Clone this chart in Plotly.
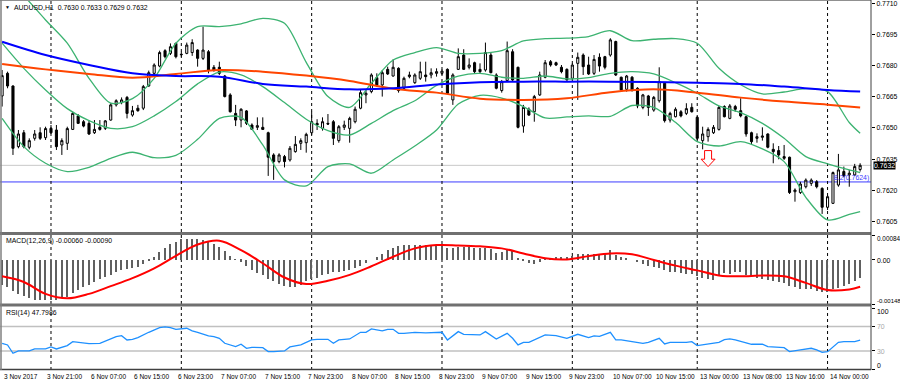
import plotly.graph_objects as go

# ---------------- data ----------------
bars = list(range(159))
opens = [0.76654,0.76763,0.76702,0.76410,0.76477,0.76407,0.76450,0.76477,0.76453,0.76498,
0.76490,0.76418,0.76426,0.76493,0.76558,0.76530,0.76522,0.76477,0.76503,0.76498,
0.76538,0.76611,0.76622,0.76647,0.76562,0.76595,0.76595,0.76702,0.76763,0.76798,
0.76872,0.76859,0.76907,0.76855,0.76859,0.76863,0.76875,0.76835,0.76867,0.76792,
0.76792,0.76750,0.76659,0.76570,0.76538,0.76582,0.76514,0.76503,0.76503,0.76477,
0.76370,0.76338,0.76362,0.76346,0.76386,0.76426,0.76429,0.76477,0.76522,0.76498,
0.76522,0.76530,0.76439,0.76503,0.76498,0.76530,0.76595,0.76659,0.76675,0.76742,
0.76707,0.76782,0.76750,0.76787,0.76691,0.76747,0.76718,0.76739,0.76755,0.76755,
0.76763,0.76763,0.76782,0.76635,0.76782,0.76851,0.76792,0.76814,0.76782,0.76779,
0.76851,0.76755,0.76680,0.76728,0.76867,0.76792,0.76509,0.76590,0.76578,0.76659,
0.76744,0.76819,0.76814,0.76792,0.76782,0.76739,0.76811,0.76851,0.76803,0.76763,
0.76840,0.76843,0.76851,0.76916,0.76744,0.76686,0.76744,0.76691,0.76599,0.76654,
0.76586,0.76631,0.76715,0.76538,0.76554,0.76578,0.76570,0.76599,0.76551,0.76439,
0.76458,0.76477,0.76493,0.76603,0.76546,0.76603,0.76583,0.76554,0.76477,0.76450,
0.76455,0.76471,0.76397,0.76391,0.76362,0.76359,0.76193,0.76189,0.76217,0.76233,
0.76241,0.76209,0.76118,0.76137,0.76225,0.76290,0.76274,0.76274,0.76300]
highs = [0.76779,0.76771,0.76705,0.76490,0.76490,0.76450,0.76490,0.76503,0.76506,0.76514,
0.76514,0.76450,0.76506,0.76578,0.76567,0.76538,0.76538,0.76538,0.76538,0.76538,
0.76619,0.76638,0.76647,0.76654,0.76606,0.76611,0.76707,0.76776,0.76811,0.76872,
0.76879,0.76907,0.76911,0.76867,0.76911,0.76927,0.76879,0.76988,0.76875,0.76803,
0.76819,0.76755,0.76667,0.76611,0.76595,0.76586,0.76522,0.76551,0.76551,0.76482,
0.76378,0.76378,0.76370,0.76413,0.76461,0.76450,0.76477,0.76578,0.76542,0.76551,
0.76567,0.76538,0.76514,0.76535,0.76554,0.76603,0.76683,0.76683,0.76763,0.76763,
0.76779,0.76795,0.76830,0.76792,0.76747,0.76771,0.76763,0.76819,0.76819,0.76787,
0.76787,0.76782,0.76787,0.76763,0.76883,0.76879,0.76835,0.76819,0.76811,0.76911,
0.76863,0.76763,0.76731,0.76916,0.76879,0.76795,0.76611,0.76599,0.76659,0.76771,
0.76827,0.76827,0.76819,0.76803,0.76787,0.76811,0.76863,0.76859,0.76843,0.76851,
0.76859,0.76847,0.76932,0.76920,0.76747,0.76755,0.76750,0.76696,0.76664,0.76659,
0.76654,0.76792,0.76718,0.76578,0.76599,0.76586,0.76619,0.76619,0.76558,0.76506,
0.76503,0.76514,0.76606,0.76609,0.76615,0.76611,0.76643,0.76558,0.76482,0.76474,
0.76503,0.76474,0.76426,0.76413,0.76418,0.76362,0.76209,0.76241,0.76257,0.76257,
0.76249,0.76214,0.76177,0.76290,0.76375,0.76314,0.76298,0.76327,0.76330]
lows = [0.76603,0.76691,0.76370,0.76402,0.76402,0.76397,0.76439,0.76442,0.76442,0.76471,
0.76394,0.76370,0.76394,0.76490,0.76519,0.76503,0.76466,0.76471,0.76487,0.76490,
0.76535,0.76603,0.76614,0.76546,0.76554,0.76578,0.76586,0.76699,0.76755,0.76792,
0.76835,0.76851,0.76835,0.76843,0.76855,0.76847,0.76795,0.76827,0.76763,0.76771,
0.76755,0.76647,0.76574,0.76509,0.76503,0.76514,0.76490,0.76490,0.76490,0.76269,
0.76250,0.76330,0.76310,0.76338,0.76381,0.76394,0.76381,0.76466,0.76490,0.76487,
0.76514,0.76418,0.76429,0.76490,0.76429,0.76522,0.76590,0.76619,0.76667,0.76699,
0.76651,0.76755,0.76747,0.76670,0.76683,0.76739,0.76712,0.76731,0.76723,0.76739,
0.76747,0.76755,0.76664,0.76611,0.76779,0.76779,0.76782,0.76763,0.76763,0.76771,
0.76763,0.76686,0.76670,0.76723,0.76723,0.76498,0.76477,0.76558,0.76530,0.76654,
0.76739,0.76795,0.76798,0.76763,0.76728,0.76731,0.76635,0.76755,0.76755,0.76755,
0.76771,0.76782,0.76843,0.76750,0.76680,0.76675,0.76675,0.76595,0.76590,0.76558,
0.76578,0.76622,0.76526,0.76526,0.76551,0.76551,0.76562,0.76574,0.76442,0.76397,
0.76434,0.76471,0.76487,0.76551,0.76542,0.76578,0.76551,0.76458,0.76423,0.76429,
0.76439,0.76402,0.76330,0.76349,0.76346,0.76182,0.76145,0.76182,0.76209,0.76221,
0.76209,0.76086,0.76105,0.76134,0.76217,0.76262,0.76217,0.76269,0.76290]
closes = [0.76752,0.76702,0.76402,0.76471,0.76410,0.76439,0.76471,0.76450,0.76497,0.76477,
0.76410,0.76439,0.76497,0.76570,0.76522,0.76509,0.76471,0.76493,0.76493,0.76534,
0.76611,0.76631,0.76635,0.76570,0.76583,0.76583,0.76699,0.76766,0.76803,0.76863,
0.76843,0.76891,0.76843,0.76853,0.76899,0.76911,0.76835,0.76875,0.76779,0.76779,
0.76763,0.76651,0.76578,0.76538,0.76590,0.76522,0.76493,0.76511,0.76493,0.76359,
0.76338,0.76370,0.76338,0.76402,0.76421,0.76439,0.76469,0.76530,0.76514,0.76530,
0.76519,0.76450,0.76506,0.76514,0.76546,0.76590,0.76670,0.76667,0.76755,0.76707,
0.76766,0.76760,0.76792,0.76680,0.76739,0.76755,0.76755,0.76771,0.76747,0.76766,
0.76771,0.76774,0.76667,0.76755,0.76843,0.76782,0.76803,0.76771,0.76771,0.76863,
0.76766,0.76691,0.76723,0.76872,0.76731,0.76503,0.76599,0.76562,0.76651,0.76755,
0.76814,0.76803,0.76803,0.76771,0.76731,0.76803,0.76840,0.76795,0.76760,0.76830,
0.76798,0.76792,0.76924,0.76755,0.76683,0.76750,0.76683,0.76606,0.76659,0.76599,
0.76647,0.76723,0.76535,0.76570,0.76590,0.76558,0.76593,0.76578,0.76450,0.76471,
0.76493,0.76503,0.76599,0.76554,0.76606,0.76590,0.76558,0.76471,0.76434,0.76458,
0.76461,0.76407,0.76386,0.76370,0.76354,0.76189,0.76201,0.76230,0.76249,0.76249,
0.76217,0.76118,0.76169,0.76285,0.76298,0.76269,0.76282,0.76314,0.76320]

bb_x = [0,4,8,12,16,20,24,28,32,36,40,44,48,52,56,60,64,68,72,76,80,84,88,92,96,100,
        104,108,112,116,120,124,128,132,136,140,144,148,152,156,158]
bb_upper = [0.77250,0.77137,0.77020,0.76908,0.76739,0.76619,0.76641,0.76739,0.76908,0.76988,
            0.76988,0.77001,0.77028,0.77004,0.76816,0.76651,0.76599,0.76715,0.76827,0.76863,
            0.76887,0.76859,0.76859,0.76872,0.76919,0.76930,0.76932,0.76940,0.76968,0.76920,
            0.76927,0.76930,0.76908,0.76787,0.76708,0.76664,0.76673,0.76689,0.76675,0.76526,0.76474]
bb_middle = [0.76908,0.76787,0.76683,0.76593,0.76535,0.76498,0.76506,0.76558,0.76627,0.76712,
             0.76769,0.76755,0.76699,0.76622,0.76542,0.76487,0.76466,0.76522,0.76583,0.76631,
             0.76705,0.76750,0.76763,0.76744,0.76739,0.76750,0.76736,0.76742,0.76763,0.76771,
             0.76760,0.76718,0.76667,0.76606,0.76574,0.76522,0.76450,0.76362,0.76327,0.76298,0.76285]
bb_lower = [0.76546,0.76410,0.76330,0.76290,0.76310,0.76354,0.76383,0.76357,0.76368,0.76445,
            0.76546,0.76551,0.76418,0.76250,0.76221,0.76314,0.76327,0.76282,0.76346,0.76413,
            0.76490,0.76615,0.76657,0.76644,0.76603,0.76548,0.76553,0.76558,0.76556,0.76608,
            0.76599,0.76527,0.76434,0.76413,0.76434,0.76399,0.76338,0.76166,0.76057,0.76084,0.76097]

ma_x = [0,8,16,24,32,40,48,56,64,72,80,88,96,104,112,120,128,136,144,152,158]
ma_blue = [0.76915,0.76851,0.76803,0.76763,0.76750,0.76747,0.76712,0.76699,0.76686,0.76691,
           0.76709,0.76720,0.76723,0.76723,0.76723,0.76721,0.76717,0.76712,0.76699,0.76683,0.76675]
ma_red = [0.76808,0.76782,0.76760,0.76742,0.76760,0.76779,0.76771,0.76752,0.76726,0.76689,
          0.76670,0.76641,0.76635,0.76643,0.76672,0.76686,0.76670,0.76646,0.76627,0.76612,0.76599]

macd_main = [-0.00083,-0.00092,-0.00103,-0.00114,-0.00122,-0.00128,-0.00133,-0.00136,-0.00136,-0.00135,
-0.00133,-0.00129,-0.00123,-0.00110,-0.00102,-0.00092,-0.00083,-0.00074,-0.00064,-0.00056,
-0.00050,-0.00041,-0.00034,-0.00030,-0.00028,-0.00025,-0.00014,-0.00003,0.00011,0.00028,
0.00041,0.00053,0.00061,0.00070,0.00072,0.00072,0.00070,0.00066,0.00063,0.00055,
0.00043,0.00030,0.00012,0.00003,-0.00006,-0.00019,-0.00032,-0.00044,-0.00052,-0.00063,
-0.00072,-0.00081,-0.00086,-0.00091,-0.00090,-0.00083,-0.00072,-0.00064,-0.00059,-0.00052,
-0.00046,-0.00042,-0.00039,-0.00036,-0.00034,-0.00028,-0.00021,-0.00009,0.00000,0.00009,
0.00021,0.00032,0.00041,0.00048,0.00050,0.00050,0.00049,0.00050,0.00051,0.00050,
0.00049,0.00049,0.00039,0.00041,0.00044,0.00044,0.00044,0.00041,0.00041,0.00041,
0.00036,0.00025,0.00028,0.00032,0.00030,0.00006,-0.00003,-0.00011,-0.00012,-0.00006,
0.00003,0.00008,0.00011,0.00011,0.00011,0.00014,0.00019,0.00019,0.00019,0.00019,
0.00019,0.00021,0.00033,0.00017,0.00010,0.00006,0.00000,-0.00007,-0.00014,-0.00021,
-0.00025,-0.00028,-0.00033,-0.00039,-0.00041,-0.00044,-0.00046,-0.00048,-0.00055,-0.00061,
-0.00063,-0.00066,-0.00055,-0.00044,-0.00048,-0.00039,-0.00039,-0.00050,-0.00057,-0.00061,
-0.00065,-0.00067,-0.00070,-0.00074,-0.00078,-0.00088,-0.00092,-0.00096,-0.00099,-0.00099,
-0.00103,-0.00106,-0.00107,-0.00099,-0.00094,-0.00086,-0.00081,-0.00070,-0.00060]
sig_x = bb_x
macd_signal = [-0.00055,-0.00074,-0.00114,-0.00129,-0.00114,-0.00088,-0.00061,-0.00028,0.00014,0.00052,
               0.00065,0.00033,-0.00011,-0.00059,-0.00081,-0.00070,-0.00050,-0.00021,0.00011,0.00039,
               0.00050,0.00049,0.00046,0.00039,0.00022,0.00006,0.00002,0.00013,0.00022,0.00019,
               0.00000,-0.00019,-0.00035,-0.00052,-0.00055,-0.00052,-0.00055,-0.00077,-0.00101,-0.00099,-0.00090]

rsi_x = [0,1,2,3,5,6,8,9,10,12,13,14,16,18,19,21,22,23,24,25,27,28,29,30,31,32,34,35,36,38,
         39,40,41,43,44,45,46,48,49,50,52,53,55,57,58,60,61,62,64,66,67,68,70,71,72,73,74,76,78,81,
         82,84,85,88,89,91,93,94,95,96,97,100,102,104,106,108,109,110,112,113,114,116,118,119,121,122,
         123,126,127,128,130,132,133,134,135,138,140,141,144,145,147,149,150,151,152,154,155,157,158]
rsi_v = [42.6,39.9,26.2,30.0,30.0,33.3,33.3,36.6,33.3,38.8,45.3,44.2,42.1,42.6,46.4,53.6,55.2,48.1,49.2,51.9,
         60.7,64.0,68.4,69.5,68.4,65.6,67.3,62.9,60.7,54.7,53.6,50.8,42.6,37.1,41.0,34.4,36.0,35.5,28.9,28.9,
         30.0,36.6,39.9,48.1,49.2,49.2,42.6,48.1,49.7,60.7,60.7,66.2,62.9,65.6,65.6,59.0,59.0,60.7,59.6,60.7,
         48.1,61.8,57.4,56.3,61.8,49.7,59.0,50.8,39.9,44.2,44.2,56.3,55.2,50.8,57.4,51.9,54.7,54.1,60.7,48.1,
         48.1,45.3,42.6,44.2,50.8,41.5,44.2,44.2,45.3,38.8,41.5,44.2,48.6,49.7,48.1,41.0,41.0,37.1,35.5,28.9,
         31.6,34.4,31.6,27.8,28.9,44.2,45.3,45.3,47.7986]

price_ticks = [0.7605, 0.7620, 0.7635, 0.7650, 0.7665, 0.7680, 0.7695, 0.7710]
time_labels = ["3 Nov 21:00", "6 Nov 07:00", "6 Nov 15:00", "6 Nov 23:00", "7 Nov 07:00",
               "7 Nov 15:00", "7 Nov 23:00", "8 Nov 07:00", "8 Nov 15:00", "8 Nov 23:00",
               "9 Nov 07:00", "9 Nov 15:00", "9 Nov 23:00", "10 Nov 07:00", "10 Nov 15:00",
               "13 Nov 00:00", "13 Nov 08:00", "13 Nov 16:00", "14 Nov 00:00"]
first_label = "3 Nov 2017"
grid_bars = [9, 33, 57, 81, 105, 128, 152]
bid_price = 0.7632
fib_price = 0.7624
fib_text = "8.2(0.7624)"
arrow_bar = 130
arrow_price = 0.76391
title_main = "AUDUSD,H1  0.7630 0.7633 0.7629 0.7632"
title_macd = "MACD(12,26,9) -0.00060 -0.00090"
title_rsi = "RSI(14) 47.7986"

# ---------------- geometry helpers ----------------
W_PLOT, H_PLOT = 871.0, 370.0
def py(px):
    return 1 - px / H_PLOT
def pxp(px):
    return px / W_PLOT

FONT = dict(family="Liberation Sans, Arial, sans-serif", size=6.9, color="black")
XFONT = dict(FONT, size=6.5)
GREEN = "#3cb371"

fig = go.Figure()
fig.add_trace(go.Candlestick(
    x=bars, open=opens, high=highs, low=lows, close=closes,
    increasing=dict(line=dict(color="black", width=1), fillcolor="white"),
    decreasing=dict(line=dict(color="black", width=1), fillcolor="black"),
    whiskerwidth=0, yaxis="y", hoverinfo="skip"))
for band in (bb_upper, bb_middle, bb_lower):
    fig.add_trace(go.Scatter(x=bb_x, y=band, mode="lines", yaxis="y",
                             line=dict(color=GREEN, width=1.3, shape="spline", smoothing=0.8)))
fig.add_trace(go.Scatter(x=ma_x, y=ma_red, mode="lines", yaxis="y",
                         line=dict(color="#ff4500", width=2, shape="spline")))
fig.add_trace(go.Scatter(x=ma_x, y=ma_blue, mode="lines", yaxis="y",
                         line=dict(color="#0000ff", width=2, shape="spline")))

fig.add_trace(go.Bar(x=bars, y=macd_main, width=0.25, yaxis="y2",
                     marker=dict(color="#606060", line=dict(width=0))))
fig.add_trace(go.Scatter(x=sig_x, y=macd_signal, mode="lines", yaxis="y2",
                         line=dict(color="#ff0000", width=2, shape="spline")))
fig.add_trace(go.Scatter(x=rsi_x, y=rsi_v, mode="lines", yaxis="y3",
                         line=dict(color="#1e90ff", width=1.3)))

shapes = []
shapes.append(dict(type="line", xref="paper", yref="y", x0=0, x1=1, y0=bid_price, y1=bid_price,
                   line=dict(color="#c8c8c8", width=1), layer="below"))
shapes.append(dict(type="line", xref="paper", yref="y", x0=0, x1=1, y0=fib_price, y1=fib_price,
                   line=dict(color="#3c3cff", width=1), layer="below"))
for lv in (70, 30):
    shapes.append(dict(type="line", xref="paper", yref="y3", x0=0, x1=1, y0=lv, y1=lv,
                       line=dict(color="#c0c0c0", width=1.5), layer="below"))
for g in grid_bars:
    shapes.append(dict(type="line", xref="x", yref="paper", x0=g, x1=g, y0=0, y1=1,
                       line=dict(color="black", width=1, dash="dot"), layer="below"))
for ypx, w, c in ((233.5, 3, "#707070"), (305.0, 3, "#707070"), (369.5, 1.5, "#404040"),
                  (0.5, 1, "#909090")):
    shapes.append(dict(type="line", xref="paper", yref="paper", x0=0, x1=1, y0=py(ypx), y1=py(ypx),
                       line=dict(color=c, width=w)))
shapes.append(dict(type="line", xref="paper", yref="paper", x0=pxp(1), x1=pxp(1), y0=0, y1=1,
                   line=dict(color="#808080", width=1.5)))
shapes.append(dict(type="line", xref="paper", yref="paper", x0=1, x1=1, y0=0, y1=1,
                   line=dict(color="#404040", width=1)))
shapes.append(dict(type="path", xref="x", yref="y", xsizemode="pixel", ysizemode="pixel",
                   xanchor=arrow_bar, yanchor=arrow_price,
                   path="M -3.5,0 L 3.5,0 L 3.5,-8.6 L 7,-8.6 L 0,-16 L -7,-8.6 L -3.5,-8.6 Z",
                   fillcolor="white", line=dict(color="#ff0000", width=1)))

ann = []
ann.append(dict(text="▼", xref="paper", yref="paper", x=pxp(3), y=py(7), xanchor="left",
                yanchor="middle", showarrow=False, font=dict(FONT, size=5)))
ann.append(dict(text=title_main, xref="paper", yref="paper", x=pxp(12), y=py(7), xanchor="left",
                yanchor="middle", showarrow=False, font=FONT))
ann.append(dict(text=title_macd, xref="paper", yref="paper", x=pxp(4), y=py(240.5), xanchor="left",
                yanchor="middle", showarrow=False, font=FONT))
ann.append(dict(text=title_rsi, xref="paper", yref="paper", x=pxp(4), y=py(313), xanchor="left",
                yanchor="middle", showarrow=False, font=FONT))
ann.append(dict(text=fib_text, xref="paper", yref="y", x=1, y=fib_price, xanchor="right",
                yanchor="bottom", showarrow=False, font=dict(FONT, color="#3c3cff"), yshift=-2))
ann.append(dict(text=f"{bid_price:.4f}", xref="paper", yref="y", x=pxp(873), y=bid_price,
                xanchor="left", yanchor="middle", showarrow=False, bgcolor="black",
                font=dict(FONT, color="white"), borderpad=0))
for txt, ypx, col, sz in (("0.00084", 239, "black", 6.4), ("0.00", 260, "black", 6.9),
                          ("-0.00148", 301, "black", 6.0), ("100", 311.7, "black", 6.9),
                          ("70", 326.7, "#a8a8a8", 6.9), ("30", 351, "#a8a8a8", 6.9),
                          ("0", 365, "black", 6.9)):
    ann.append(dict(text=txt, xref="paper", yref="paper", x=pxp(875), y=py(ypx), xanchor="left",
                    yanchor="middle", showarrow=False, font=dict(FONT, color=col, size=sz)))
ann.append(dict(text=first_label, xref="x", yref="paper", x=0, y=py(376.5), xanchor="left",
                yanchor="middle", showarrow=False, font=XFONT))
for k, lab in enumerate(time_labels):
    ann.append(dict(text=lab, xref="x", yref="paper", x=7.9 + 8.01 * k, y=py(376.5), xanchor="left",
                    yanchor="middle", showarrow=False, font=XFONT))

fig.update_layout(
    width=900, height=384, margin=dict(l=0, r=29, t=0, b=14),
    paper_bgcolor="white", plot_bgcolor="white", showlegend=False, boxgap=0.45, bargap=0,
    font=FONT, shapes=shapes, annotations=ann,
    xaxis=dict(range=[-0.39, 160.0], anchor="y3", showgrid=False, zeroline=False,
               showticklabels=False, ticks="", rangeslider=dict(visible=False)),
    yaxis=dict(domain=[py(232), 1], range=[0.75999, 0.77116], side="right", anchor="x",
               tickvals=price_ticks, ticktext=[f"{v:.4f}" for v in price_ticks],
               ticks="outside", ticklen=3, tickcolor="black", showgrid=False, zeroline=False,
               tickfont=FONT, ticklabeloverflow="allow"),
    yaxis2=dict(domain=[py(304), py(235)], range=[-0.00148, 0.00084], anchor="x", side="right",
                showticklabels=False, showgrid=False, zeroline=False,
                tickvals=[0.00084, 0.0, -0.00148], ticks="outside", ticklen=3, tickcolor="black"),
    yaxis3=dict(domain=[0, py(306)], range=[-1.3, 103.9], anchor="x", side="right",
                showticklabels=False, showgrid=False, zeroline=False,
                tickvals=[100, 70, 30, 0], ticks="outside", ticklen=3, tickcolor="black"),
)

fig.write_html("out.html", config={"displayModeBar": False},
               post_script="document.body.style.margin='0';document.body.style.overflow='hidden';")
